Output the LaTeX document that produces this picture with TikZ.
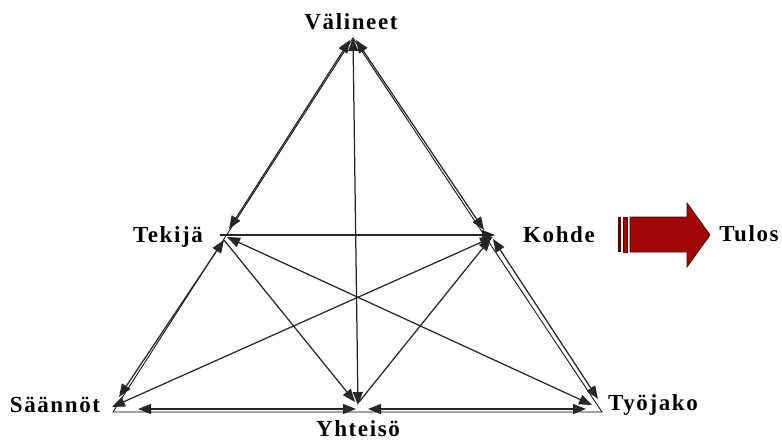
\documentclass[tikz,border=0pt]{standalone}
\usepackage{fontspec}
\setmainfont{Liberation Serif}
\newfontfamily\labfont[LetterSpace=7]{Liberation Serif}
\usetikzlibrary{arrows.meta}
\definecolor{arrred}{RGB}{160,6,6}
\definecolor{arrdark}{RGB}{90,0,0}
\begin{document}
\begin{tikzpicture}[x=1pt,y=-1pt,
  lab/.style={font=\labfont\bfseries\fontsize{23}{25}\selectfont, inner sep=0pt, anchor=base},
  edge/.style={line width=1.25pt, draw=black!85},
  tip/.tip={Triangle[length=13pt,width=10pt]},
  both/.style={edge, tip-tip},
  one/.style={edge, -tip},
  outline/.style={line width=0.8pt, draw=black}]
\useasboundingbox (0,0) rectangle (782,441);
% vertex coordinates
\coordinate (V) at (353,38);
\coordinate (S) at (113,412);
\coordinate (J) at (602,412);
% arrow end points
\coordinate (Va) at (350,40);   \coordinate (Ta) at (229,229);
\coordinate (Vb) at (356,40);   \coordinate (Ka) at (484,230);
\coordinate (Vc) at (353,38);   \coordinate (Yc) at (358,405);
\coordinate (Tb) at (220,235);  \coordinate (Kb) at (495,235);
\coordinate (Tc) at (224,240);  \coordinate (Sc) at (119,397);
\coordinate (Kc) at (493,237);  \coordinate (Sd) at (112,407);
\coordinate (Kd) at (493,239);  \coordinate (Jd) at (598,399);
\coordinate (Te) at (227,237);  \coordinate (Je) at (592,405);
\coordinate (Tf) at (224,240);  \coordinate (Yf) at (355,402);
\coordinate (Kf) at (491,238);  \coordinate (Yg) at (359,402);
\coordinate (Sb) at (138,409);  \coordinate (Ya) at (356,409);
\coordinate (Yb) at (368,409);  \coordinate (Jb) at (586,409);
% outline triangle
\draw[outline] (V) -- (S) -- (J) -- cycle;
% connectors
\draw[both] (Va) -- (Ta);
\draw[both] (Vb) -- (Ka);
\draw[both] (Vc) -- (Yc);
\draw[one]  (Tb) -- (Kb);
\draw[both] (Tc) -- (Sc);
\draw[both] (Kc) -- (Sd);
\draw[both] (Kd) -- (Jd);
\draw[both] (Te) -- (Je);
\draw[one]  (Tf) -- (Yf);
\draw[one]  (Yg) -- (Kf);
\draw[both] (Sb) -- (Ya);
\draw[both] (Yb) -- (Jb);
% labels
\node[lab] (valineet) at (351,30) {Välineet};
\node[lab] (tekija) at (168,242) {Tekijä};
\node[lab] (kohde) at (559,242) {Kohde};
\node[lab] (tulos) at (749,241) {Tulos};
\node[lab] (saannot) at (55,412) {Säännöt};
\node[lab] (yhteiso) at (358,436) {Yhteisö};
\node[lab] (tyojako) at (653,410) {Työjako};
% red arrow
\fill[arrdark] (618,217) rectangle (621,252);
\filldraw[fill=arrred, draw=arrdark, line width=0.6pt] (623,217) rectangle (627,252);
\filldraw[fill=arrred, draw=arrdark, line width=0.8pt]
  (630,217) -- (687,217) -- (687,203) -- (710,235) -- (687,267) -- (687,252) -- (630,252) -- cycle;
\end{tikzpicture}
\end{document}
